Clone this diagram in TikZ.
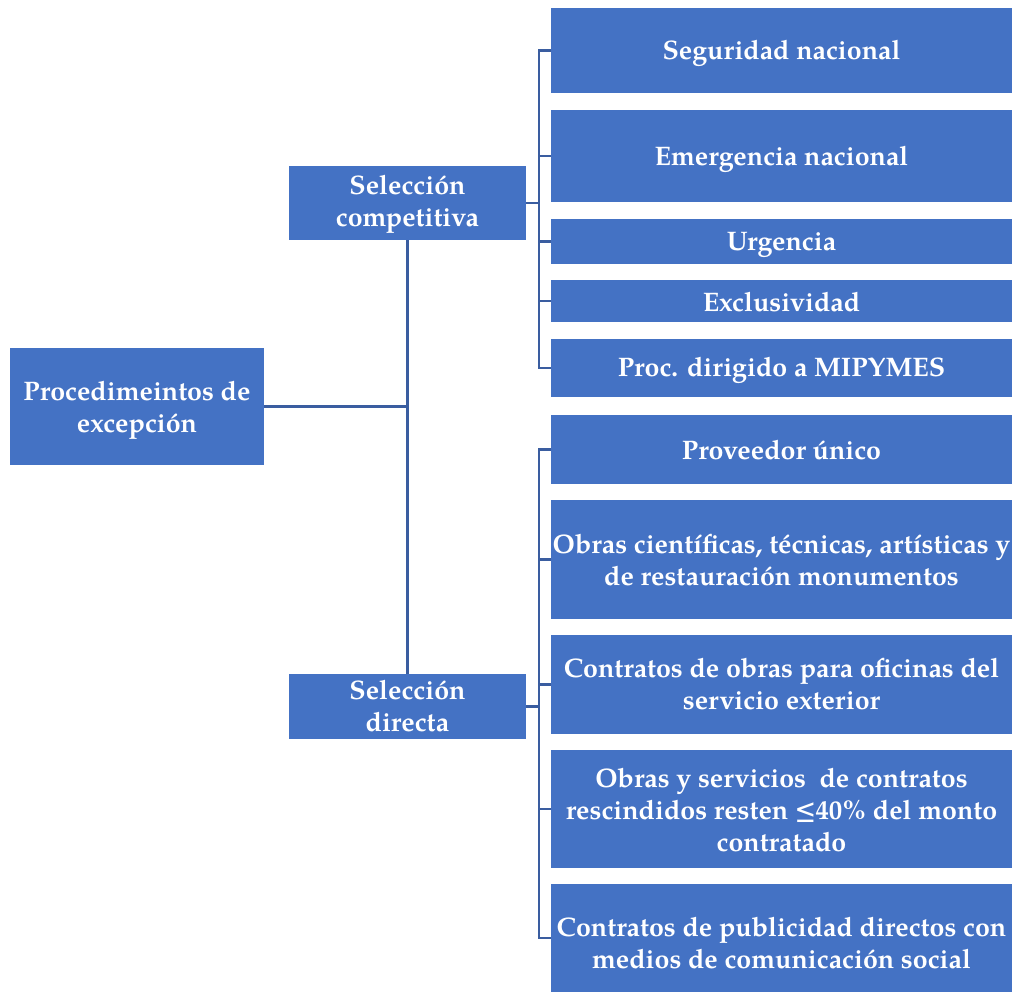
\documentclass[tikz,border=0pt]{standalone}
\usepackage{fontspec}
\setmainfont{texgyrepagella}[Extension=.otf,UprightFont=*-regular,BoldFont=*-bold,ItalicFont=*-italic,BoldItalicFont=*-bolditalic]
\definecolor{boxblue}{HTML}{4472C4}
\definecolor{lineblue}{HTML}{3A5DA0}
\begin{document}
\begin{tikzpicture}[x=1pt,y=-1pt,
  box/.style={draw=none,fill=boxblue,inner sep=0pt},
  txt/.style={text=white,font=\fontsize{26.8}{32}\selectfont\bfseries,align=center,inner sep=0pt},
  conn/.style={draw=lineblue,line width=2.6pt}]
\useasboundingbox (0,0) rectangle (1014,994);
\node[box,minimum width=254pt,minimum height=117pt,label={[txt,yshift=-3.5pt]center:Procedimeintos de\\excepción}] (root) at (137,406.5) {};
\node[box,minimum width=237pt,minimum height=74pt,label={[txt,yshift=-1.5pt]center:Selección\\competitiva}] (comp) at (407.5,203) {};
\node[box,minimum width=237pt,minimum height=65pt,label={[txt]center:Selección\\directa}] (dir) at (407.5,706.5) {};
\node[box,minimum width=461pt,minimum height=85pt,label={[txt,yshift=-3pt]center:Seguridad nacional}] (s1) at (781.5,50.5) {};
\node[box,minimum width=461pt,minimum height=92pt,label={[txt,yshift=-3pt]center:Emergencia nacional}] (s2) at (781.5,156) {};
\node[box,minimum width=461pt,minimum height=45pt,label={[txt,yshift=-3pt]center:Urgencia}] (s3) at (781.5,241.5) {};
\node[box,minimum width=461pt,minimum height=42pt,label={[txt,yshift=-1pt]center:Exclusividad}] (s4) at (781.5,301) {};
\node[box,minimum width=461pt,minimum height=58pt,label={[txt,yshift=-2pt]center:Proc. dirigido a MIPYMES}] (s5) at (781.5,368) {};
\node[box,minimum width=461pt,minimum height=69pt,label={[txt,yshift=-1pt]center:Proveedor único}] (d1) at (781.5,449.5) {};
\node[box,minimum width=461pt,minimum height=119pt,label={[txt,yshift=-1pt]center:Obras científicas, técnicas, artísticas y\\de restauración monumentos}] (d2) at (781.5,559.5) {};
\node[box,minimum width=461pt,minimum height=99pt,label={[txt]center:Contratos de obras para oficinas del\\servicio exterior}] (d3) at (781.5,684.5) {};
\node[box,minimum width=461pt,minimum height=118pt,label={[txt,yshift=-1pt]center:Obras y servicios\ \ de contratos\\rescindidos resten ≤40\% del monto\\contratado}] (d4) at (781.5,809) {};
\node[box,minimum width=461pt,minimum height=108pt,label={[txt,yshift=-5pt]center:Contratos de publicidad directos con\\medios de comunicación social}] (d5) at (781.5,938) {};
\coordinate (cs) at (539,0);
\draw[conn] (comp.south) -- (dir.north);
\draw[conn] (root.east) -- (root.east -| comp.south);
\draw[conn] (comp.east) -- (comp.east -| cs);
\draw[conn] (s1.west) -- (s1.west -| cs) -- (s5.west -| cs) -- (s5.west);
\foreach \n in {s2,s3,s4} \draw[conn] (\n.west -| cs) -- (\n.west);
\draw[conn] (dir.east) -- (dir.east -| cs);
\draw[conn] (d1.west) -- (d1.west -| cs) -- (d5.west -| cs) -- (d5.west);
\foreach \n in {d2,d3,d4} \draw[conn] (\n.west -| cs) -- (\n.west);
\end{tikzpicture}
\end{document}
